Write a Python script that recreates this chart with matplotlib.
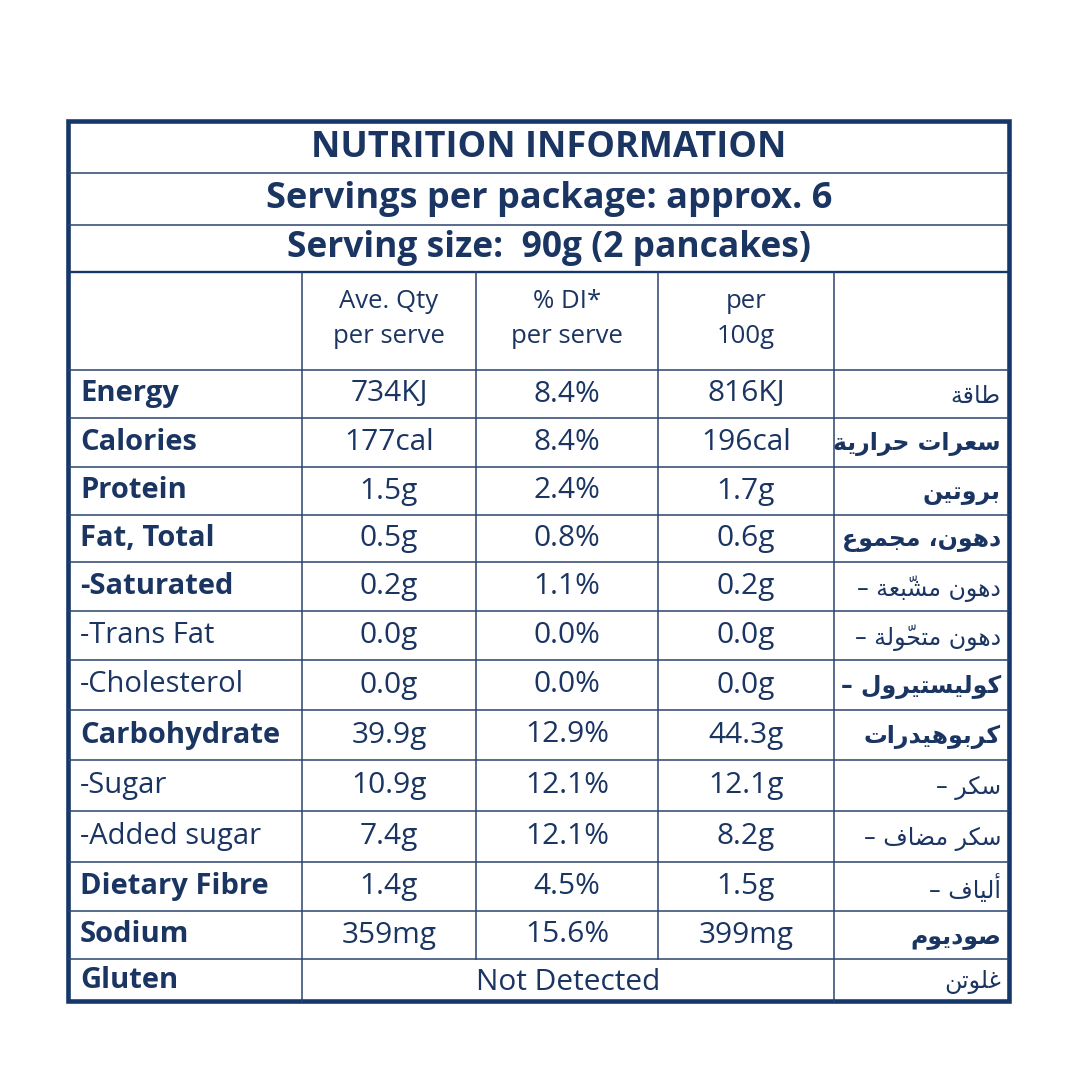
import matplotlib
matplotlib.use("Agg")
import matplotlib.pyplot as plt

# ---------------------------------------------------------------- data -----
title = "NUTRITION INFORMATION"
servings_line = "Servings per package: approx. 6"
size_line = "Serving size:  90g (2 pancakes)"

col_heads = ["Ave. Qty\nper serve", "% DI*\nper serve", "per\n100g"]

nutrients = ["Energy", "Calories", "Protein", "Fat, Total", "-Saturated",
             "-Trans Fat", "-Cholesterol", "Carbohydrate", "-Sugar",
             "-Added sugar", "Dietary Fibre", "Sodium", "Gluten"]
label_bold = [1, 1, 1, 1, 1, 0, 0, 1, 0, 0, 1, 1, 1]

per_serve = ["734KJ", "177cal", "1.5g", "0.5g", "0.2g", "0.0g", "0.0g",
             "39.9g", "10.9g", "7.4g", "1.4g", "359mg", None]
di_serve = ["8.4%", "8.4%", "2.4%", "0.8%", "1.1%", "0.0%", "0.0%",
            "12.9%", "12.1%", "12.1%", "4.5%", "15.6%", None]
per_100g = ["816KJ", "196cal", "1.7g", "0.6g", "0.2g", "0.0g", "0.0g",
            "44.3g", "12.1g", "8.2g", "1.5g", "399mg", None]
gluten_note = "Not Detected"

arabic = ["طاقة", "سعرات حرارية", "بروتين", "دهون، مجموع", "دهون مشبّعة",
          "دهون متحوّلة", "كوليستيرول", "كربوهيدرات", "سكر", "سكر مضاف",
          "ألياف", "صوديوم", "غلوتن"]
arabic_sub = [0, 0, 0, 0, 1, 1, 1, 0, 1, 1, 1, 0, 0]
arabic_bold = [0, 1, 1, 1, 0, 0, 1, 1, 0, 0, 0, 1, 0]

# ------------------------------------------------ arabic shaping (no libs) --
# matplotlib draws glyphs left to right without joining, so pick the
# presentation forms by hand and lay them out in visual order
FORMS = {
    0x0627: (0xFE8D, 0xFE8E, None, None),
    0x0623: (0xFE83, 0xFE84, None, None),
    0x0628: (0xFE8F, 0xFE90, 0xFE91, 0xFE92),
    0x0629: (0xFE93, 0xFE94, None, None),
    0x062A: (0xFE95, 0xFE96, 0xFE97, 0xFE98),
    0x062C: (0xFE9D, 0xFE9E, 0xFE9F, 0xFEA0),
    0x062D: (0xFEA1, 0xFEA2, 0xFEA3, 0xFEA4),
    0x062F: (0xFEA9, 0xFEAA, None, None),
    0x0631: (0xFEAD, 0xFEAE, None, None),
    0x0633: (0xFEB1, 0xFEB2, 0xFEB3, 0xFEB4),
    0x0634: (0xFEB5, 0xFEB6, 0xFEB7, 0xFEB8),
    0x0635: (0xFEB9, 0xFEBA, 0xFEBB, 0xFEBC),
    0x0636: (0xFEBD, 0xFEBE, 0xFEBF, 0xFEC0),
    0x0637: (0xFEC1, 0xFEC2, 0xFEC3, 0xFEC4),
    0x0639: (0xFEC9, 0xFECA, 0xFECB, 0xFECC),
    0x063A: (0xFECD, 0xFECE, 0xFECF, 0xFED0),
    0x0641: (0xFED1, 0xFED2, 0xFED3, 0xFED4),
    0x0642: (0xFED5, 0xFED6, 0xFED7, 0xFED8),
    0x0643: (0xFED9, 0xFEDA, 0xFEDB, 0xFEDC),
    0x0644: (0xFEDD, 0xFEDE, 0xFEDF, 0xFEE0),
    0x0645: (0xFEE1, 0xFEE2, 0xFEE3, 0xFEE4),
    0x0646: (0xFEE5, 0xFEE6, 0xFEE7, 0xFEE8),
    0x0647: (0xFEE9, 0xFEEA, 0xFEEB, 0xFEEC),
    0x0648: (0xFEED, 0xFEEE, None, None),
    0x064A: (0xFEF1, 0xFEF2, 0xFEF3, 0xFEF4),
}
MARKS = {0x0651}


def shape_ar(s):
    cps = [ord(c) for c in s]
    n = len(cps)

    def near(i, step):
        j = i + step
        while 0 <= j < n and cps[j] in MARKS:
            j += step
        return cps[j] if 0 <= j < n else None

    out = []
    for i, c in enumerate(cps):
        if c not in FORMS:
            out.append(chr(c))
            continue
        iso, fin, ini, med = FORMS[c]
        p, q = near(i, -1), near(i, 1)
        jp = p in FORMS and FORMS[p][2] is not None
        jn = ini is not None and q in FORMS
        g = med if (jp and jn) else fin if jp else ini if jn else iso
        out.append(chr(g))
    # visual order: reverse, keeping marks after their base
    clusters = []
    for ch in out:
        if ord(ch) in MARKS and clusters:
            clusters[-1] += ch
        else:
            clusters.append(ch)
    return "".join(reversed(clusters))


# ---------------------------------------------------------------- layout ---
NAVY = "#163869"
TXT = "#1b3562"
LINE = "#2b4470"
EN = "Open Sans"

L, R, T, B = 68, 1009, 121, 1001
cols = [L, 302, 476, 658, 834, R]
head_rows = [T, 173, 225, 272, 370]
row_lines = [370, 418, 467, 515, 562, 611, 660, 710, 760, 811, 862, 911, 959, B]

fig = plt.figure(figsize=(10.8, 10.8), dpi=100)
ax = fig.add_axes([0, 0, 1, 1])
ax.set_xlim(0, 1080)
ax.set_ylim(1080, 0)
ax.axis("off")

# grid lines
for y in head_rows[1:3] + row_lines[:-1]:
    ax.plot([L, R], [y, y], color=LINE, lw=1.1, solid_capstyle="butt")
ax.plot([L, R], [head_rows[3], head_rows[3]], color=NAVY, lw=1.7)
for i, x in enumerate(cols[1:-1]):
    y1 = row_lines[-2] if 1 <= i <= 2 else B
    ax.plot([x, x], [head_rows[3], y1], color=LINE, lw=1.1)
ax.add_patch(plt.Rectangle((L, T), R - L, B - T, fill=False,
                           edgecolor=NAVY, lw=3.3))

# headings
mid = 549
ax.text(mid, (head_rows[0] + head_rows[1]) / 2 + 1, title, ha="center",
        va="center", fontsize=26, fontweight="bold", color=TXT, family=EN)
ax.text(mid, (head_rows[1] + head_rows[2]) / 2, servings_line, ha="center",
        va="center", fontsize=26, fontweight="bold", color=TXT, family=EN)
ax.text(mid, (head_rows[2] + head_rows[3]) / 2, size_line, ha="center",
        va="center", fontsize=25.5, fontweight="bold", color=TXT, family=EN)

for j, h in enumerate(col_heads):
    cx = (cols[j + 1] + cols[j + 2]) / 2
    ax.text(cx, (head_rows[3] + head_rows[4]) / 2 - 2, h, ha="center",
            va="center", fontsize=18.5, color=TXT, family=EN,
            linespacing=1.55)

# rows
for i, name in enumerate(nutrients):
    cy = (row_lines[i] + row_lines[i + 1]) / 2
    ax.text(80, cy, name, ha="left", va="center", fontsize=21,
            fontweight="bold" if label_bold[i] else "normal",
            color=TXT, family=EN)
    vals = [per_serve[i], di_serve[i], per_100g[i]]
    if vals[0] is None:
        ax.text((cols[1] + cols[4]) / 2, cy + 2, gluten_note, ha="center",
                va="center", fontsize=21.5, color=TXT, family=EN)
    else:
        for j, v in enumerate(vals):
            cx = (cols[j + 1] + cols[j + 2]) / 2
            ax.text(cx, cy, v, ha="center", va="center", fontsize=21.5,
                    color=TXT, family=EN)
    ar = shape_ar(arabic[i])
    if arabic_sub[i]:
        ar = "– " + ar
    ax.text(1001, cy + 2, ar, ha="right", va="center", fontsize=17,
            fontweight="bold" if arabic_bold[i] else "normal",
            color=TXT, family=["DejaVu Sans"])

fig.savefig("out.png", dpi=100, facecolor="white")
